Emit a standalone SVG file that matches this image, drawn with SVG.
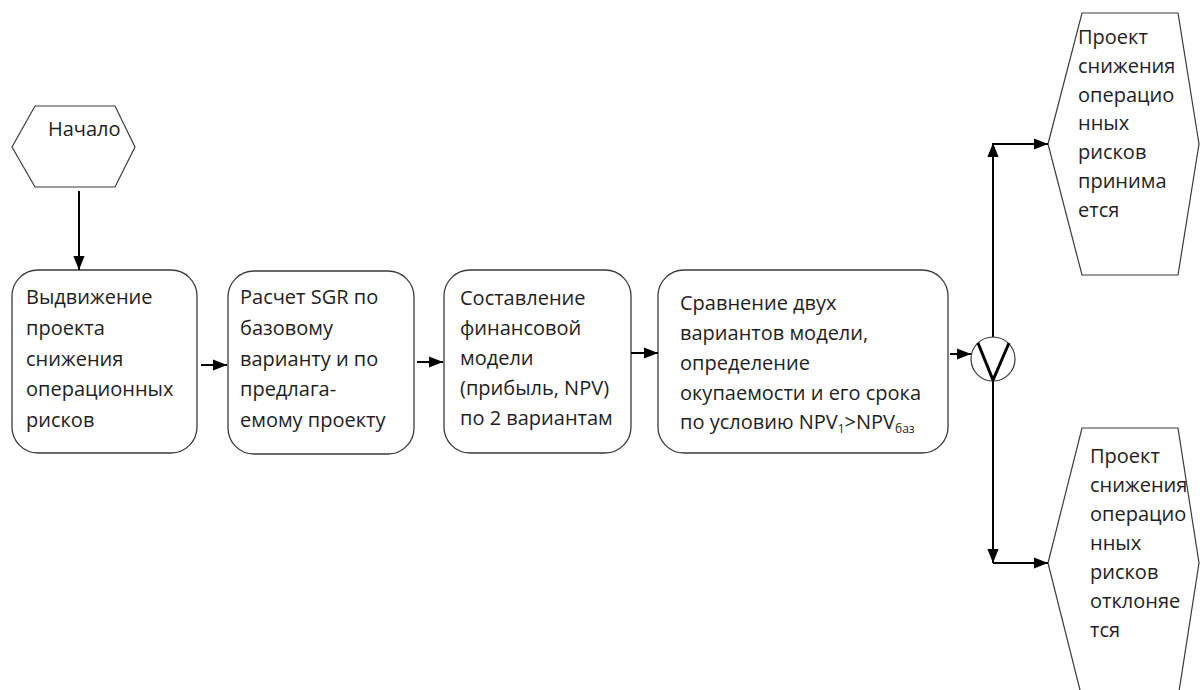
<svg xmlns="http://www.w3.org/2000/svg" width="1200" height="690" viewBox="0 0 1200 690">
<defs>
<marker id="ah" viewBox="0 0 10 10" refX="10" refY="5" markerWidth="8" markerHeight="8" markerUnits="userSpaceOnUse" orient="auto">
<path d="M0,0 L10,5 L0,10 z" fill="#000"/>
</marker>
<marker id="ahb" viewBox="0 0 10 10" refX="10" refY="5" markerWidth="14" markerHeight="14" markerUnits="userSpaceOnUse" orient="auto">
<path d="M0,1 L10,5 L0,9 z" fill="#000"/>
</marker>
</defs>
<style>
.box{fill:#fff;stroke:#3a3a3a;stroke-width:1.3}
.hex{fill:#fff;stroke:#3a3a3a;stroke-width:1.2}
.t{font-family:"Open Sans","Liberation Sans",sans-serif;font-size:20px;fill:#1e1e1e}
.sub{font-size:12px}
.c{fill:none;stroke:#000;stroke-width:2}
</style>
<rect width="1200" height="690" fill="#fff"/>
<g id="start">
<polygon class="hex" points="12,147 35,106 115,106 135,147 115,187 35,187"/>
<text class="t" x="48" y="136">Начало</text>
</g>
<g id="box1">
<rect class="box" x="12" y="270" width="185" height="183" rx="26"/>
<text class="t" x="26" y="304">Выдвижение</text>
<text class="t" x="26" y="335">проекта</text>
<text class="t" x="26" y="366">снижения</text>
<text class="t" x="26" y="396">операционных</text>
<text class="t" x="26" y="427">рисков</text>
</g>
<g id="box2">
<rect class="box" x="228" y="271" width="186" height="183" rx="26"/>
<text class="t" x="240" y="304">Расчет SGR по</text>
<text class="t" x="240" y="335">базовому</text>
<text class="t" x="240" y="366">варианту и по</text>
<text class="t" x="240" y="396">предлага-</text>
<text class="t" x="240" y="427">емому проекту</text>
</g>
<g id="box3">
<rect class="box" x="444" y="270" width="187" height="183" rx="26"/>
<text class="t" x="460" y="305">Составление</text>
<text class="t" x="460" y="335">финансовой</text>
<text class="t" x="460" y="365">модели</text>
<text class="t" x="460" y="395">(прибыль, NPV)</text>
<text class="t" x="460" y="425">по 2 вариантам</text>
</g>
<g id="box4">
<rect class="box" x="658" y="270" width="290" height="183" rx="26"/>
<text class="t" x="680" y="310">Сравнение двух</text>
<text class="t" x="680" y="340">вариантов модели,</text>
<text class="t" x="680" y="370">определение</text>
<text class="t" x="680" y="400">окупаемости и его срока</text>
<text class="t" x="680" y="429">по условию NPV<tspan class="sub" dy="4">1</tspan><tspan dy="-4">&gt;NPV</tspan><tspan class="sub" dy="4">баз</tspan></text>
</g>
<g id="decision">
<circle cx="993" cy="359" r="22" fill="#fff" stroke="#3a3a3a" stroke-width="1.2"/>
<polyline points="978,343 993,380 1009,343" fill="none" stroke="#000" stroke-width="3"/>
</g>
<g id="accepted">
<polygon class="hex" points="1048,144 1082,13 1178,13 1199,144 1178,275 1082,275"/>
<text class="t" x="1078" y="44">Проект</text>
<text class="t" x="1078" y="73">снижения</text>
<text class="t" x="1078" y="102">операцио</text>
<text class="t" x="1078" y="130">нных</text>
<text class="t" x="1078" y="159">рисков</text>
<text class="t" x="1078" y="188">принима</text>
<text class="t" x="1078" y="217">ется</text>
</g>
<g id="rejected">
<polygon class="hex" points="1048,563 1082,428 1178,428 1199,563 1178,698 1082,698"/>
<text class="t" x="1090" y="463">Проект</text>
<text class="t" x="1090" y="492">снижения</text>
<text class="t" x="1090" y="521">операцио</text>
<text class="t" x="1090" y="550">нных</text>
<text class="t" x="1090" y="579">рисков</text>
<text class="t" x="1090" y="608">отклоняе</text>
<text class="t" x="1090" y="637">тся</text>
</g>
<g id="connectors">
<line class="c" x1="79" y1="191" x2="79" y2="270" marker-end="url(#ahb)"/>
<line class="c" x1="201" y1="365" x2="227" y2="365" marker-end="url(#ahb)"/>
<line class="c" x1="417" y1="362" x2="443" y2="362" marker-end="url(#ahb)"/>
<line class="c" x1="631" y1="353" x2="658" y2="353" marker-end="url(#ahb)"/>
<line class="c" x1="950" y1="354" x2="971" y2="354" marker-end="url(#ahb)"/>
<line class="c" x1="993" y1="337" x2="993" y2="143" marker-end="url(#ahb)"/>
<line class="c" x1="993" y1="144" x2="1048" y2="144" marker-end="url(#ahb)"/>
<line class="c" x1="993" y1="381" x2="993" y2="563" marker-end="url(#ahb)"/>
<line class="c" x1="993" y1="563" x2="1048" y2="563" marker-end="url(#ahb)"/>
</g>
</svg>
